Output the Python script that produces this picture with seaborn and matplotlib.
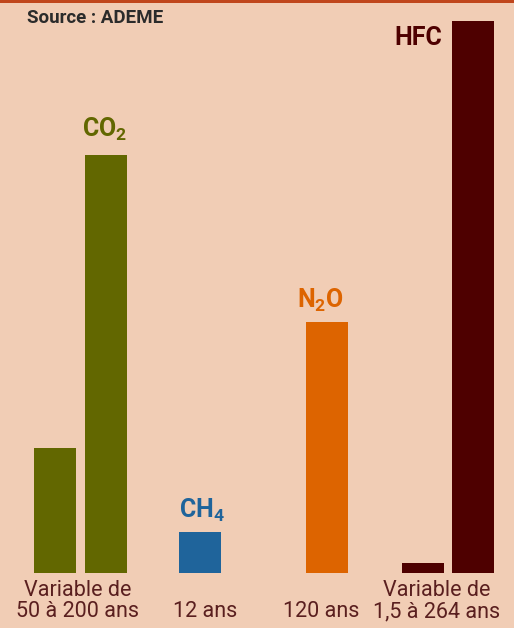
import matplotlib
matplotlib.use("Agg")
import matplotlib.pyplot as plt
import seaborn as sns
import pandas as pd

# Gases, their lifetime captions and bar heights (arbitrary units)
gases = ["CO2", "CH4", "N2O", "HFC"]
gas_labels = ["CO$_2$", "CH$_4$", "N$_2$O", "HFC"]
lifetimes = ["Variable de\n50 à 200 ans", "12 ans", "120 ans", "Variable de\n1,5 à 264 ans"]
bar_gas = ["CO2", "CO2", "CH4", "N2O", "HFC", "HFC"]
bar_values = [125.6, 418.3, 41.6, 251.0, 10.0, 552.3]
source = "Source : ADEME"

palette = {"CO2": "#626700", "CH4": "#1f649b", "N2O": "#dd6400", "HFC": "#4e0000"}
bg = "#f1cdb5"

sns.set_theme(style="white")
plt.rcParams["font.family"] = ["Roboto", "DejaVu Sans"]
plt.rcParams["mathtext.fontset"] = "custom"
plt.rcParams["mathtext.rm"] = "Roboto:bold"
plt.rcParams["mathtext.bf"] = "Roboto:bold"
plt.rcParams["mathtext.default"] = "bf"

W, H, dpi = 514, 628, 100
base = 573.3  # pixel row of the bar baseline

fig = plt.figure(figsize=(W / dpi, H / dpi), dpi=dpi, facecolor=bg)
ax = fig.add_axes([0, 0, 1, 1])
ax.set_facecolor(bg)

# horizontal layout (pixel units): bar centres and caption centres
bar_x = [55.2, 105.5, 199.5, 326.7, 422.8, 473.3]
caption_x = [78, 205, 321, 437]

df = pd.DataFrame({"x": bar_x, "value": bar_values, "gas": bar_gas})
sns.barplot(data=df, x="x", y="value", hue="gas", palette=palette,
            native_scale=True, dodge=False, width=42 / 50.3,
            saturation=1, legend=False, ax=ax, linewidth=0)

ax.set_xlim(0, W)
ax.set_ylim(-(H - base), base)
ax.set_axis_off()

# gas names above bars
tall = {g: max(v for gg, v in zip(bar_gas, bar_values) if gg == g) for g in gases}
name_pos = {
    "CO2": (105, tall["CO2"] + 18),
    "CH4": (202, tall["CH4"] + 14),
    "N2O": (320.5, tall["N2O"] + 14),
    "HFC": (418.5, base - 45),
}
for g, lab in zip(gases, gas_labels):
    x, y = name_pos[g]
    ax.text(x, y, lab, ha="center", va="baseline", fontsize=18,
            fontweight="bold", color=palette[g])

# lifetime captions below the baseline, bottom line first
for x, cap in zip(caption_x, lifetimes):
    for i, line in enumerate(reversed(cap.split("\n"))):
        ax.text(x, (base - 617) + i * 20.5, line, ha="center", va="baseline",
                fontsize=15.5, color="#5a1f1f")

ax.text(27, base - 23, source, ha="left", va="baseline", fontsize=13.5,
        fontweight="bold", color="#2b2b2b")

# thin rule along the top edge
ax.axhspan(base - 3, base + 10, color="#c0461c", lw=0)

fig.savefig("out.png", dpi=dpi, facecolor=bg)
